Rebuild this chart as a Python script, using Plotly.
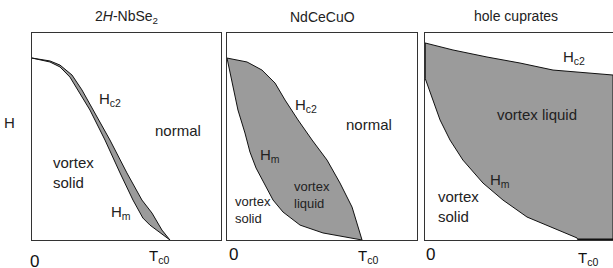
import plotly.graph_objects as go

W, H = 613, 268

# ---------------- data (T/Tc0, H normalised to box height) ----------------
# Panel 1: 2H-NbSe2
nb_hc2_t = [0.0, 0.130, 0.203, 0.290, 0.362, 0.442, 0.565, 0.688, 0.797, 0.870, 0.942, 1.0]
nb_hc2_h = [0.879, 0.865, 0.845, 0.797, 0.725, 0.628, 0.483, 0.324, 0.193, 0.130, 0.048, 0.0]
nb_hm_t = [0.0, 0.130, 0.203, 0.275, 0.348, 0.420, 0.529, 0.638, 0.732, 0.804, 0.855, 0.928, 1.0]
nb_hm_h = [0.879, 0.860, 0.836, 0.787, 0.710, 0.628, 0.483, 0.324, 0.193, 0.106, 0.072, 0.034, 0.0]

# Panel 2: NdCeCuO
nd_hc2_t = [0.0, 0.148, 0.259, 0.356, 0.430, 0.526, 0.630, 0.741, 0.837, 0.926, 1.0]
nd_hc2_h = [0.879, 0.860, 0.821, 0.758, 0.676, 0.580, 0.483, 0.386, 0.275, 0.159, 0.0]
nd_hm_t = [0.0, 0.044, 0.081, 0.133, 0.170, 0.215, 0.267, 0.341, 0.415, 0.541, 0.711, 0.889, 1.0]
nd_hm_h = [0.879, 0.749, 0.628, 0.517, 0.425, 0.348, 0.280, 0.193, 0.135, 0.072, 0.034, 0.014, 0.0]

# Panel 3: hole cuprates
hc_hc2_t = [0.0, 0.171, 0.379, 0.581, 0.783, 0.991, 1.15]
hc_hc2_h = [0.952, 0.918, 0.884, 0.855, 0.821, 0.807, 0.797]
hc_hm_t = [0.0, 0.024, 0.049, 0.092, 0.153, 0.232, 0.355, 0.477, 0.624, 0.783, 0.930, 0.936, 1.15]
hc_hm_h = [0.783, 0.725, 0.676, 0.580, 0.483, 0.386, 0.275, 0.193, 0.111, 0.058, 0.010, 0.0, 0.0]

titles = ["2<i>H</i>-NbSe<sub>2</sub>", "NdCeCuO", "hole cuprates"]
x_ranges = [[0, 1.37], [0, 1.407], [0, 1.15]]

panels = [
    (nb_hc2_t, nb_hc2_h, nb_hm_t, nb_hm_h),
    (nd_hc2_t, nd_hc2_h, nd_hm_t, nd_hm_h),
    (hc_hc2_t, hc_hc2_h, hc_hm_t, hc_hm_h),
]

# ---------------- layout geometry (pixels) ----------------
box_x = [(32, 221), (227, 417), (425, 613)]
box_top, box_bot = 33, 240

def px(x):
    return x / W

def py(y):
    return 1 - y / H

fig = go.Figure()
FILL = "#9b9b9b"
LINE = "#111111"

for i, (ht, hh, mt, mh) in enumerate(panels):
    suffix = "" if i == 0 else str(i + 1)
    poly_t = list(ht) + list(reversed(mt))
    poly_h = list(hh) + list(reversed(mh))
    fig.add_trace(go.Scatter(x=poly_t, y=poly_h, mode="lines", fill="toself",
                             fillcolor=FILL, line=dict(color=LINE, width=1),
                             xaxis="x" + suffix, yaxis="y" + suffix,
                             hoverinfo="skip", showlegend=False))
    if i == 2:
        # left vertical edge of the hole-cuprate region
        fig.add_trace(go.Scatter(x=[ht[0], mt[0]], y=[hh[0], mh[0]], mode="lines",
                                 line=dict(color=LINE, width=1.5),
                                 xaxis="x3", yaxis="y3", hoverinfo="skip", showlegend=False))
        fig.add_trace(go.Scatter(x=mt[-2:], y=mh[-2:], mode="lines",
                                 line=dict(color=LINE, width=3),
                                 xaxis="x3", yaxis="y3", hoverinfo="skip", showlegend=False))

layout = dict(width=W, height=H, margin=dict(l=0, r=0, t=0, b=0),
              paper_bgcolor="white", plot_bgcolor="white", showlegend=False,
              font=dict(family="Liberation Sans, Arial, sans-serif", color="#222"))

for i in range(3):
    suffix = "" if i == 0 else str(i + 1)
    x0, x1 = box_x[i]
    layout["xaxis" + suffix] = dict(domain=[px(x0), px(x1)], range=x_ranges[i],
                                    anchor="y" + suffix, showgrid=False, zeroline=False,
                                    showticklabels=False, ticks="", showline=True,
                                    linecolor="#333", linewidth=1.3, mirror=True,
                                    fixedrange=True)
    layout["yaxis" + suffix] = dict(domain=[py(box_bot), py(box_top)], range=[0, 1],
                                    anchor="x" + suffix, showgrid=False, zeroline=False,
                                    showticklabels=False, ticks="", showline=True,
                                    linecolor="#333", linewidth=1.3,
                                    mirror=(i != 2), fixedrange=True)
fig.update_layout(**layout)

ann = []
def txt(x, y, s, size=15, xanchor="center", color="#222", align="center"):
    ann.append(dict(x=px(x), y=py(y), xref="paper", yref="paper", text=s, showarrow=False,
                    xanchor=xanchor, yanchor="middle", align=align,
                    font=dict(size=size, color=color)))

# titles
txt(126, 17, titles[0], size=14)
txt(322, 17, titles[1], size=14)
txt(516, 16, titles[2], size=14)

# axis labels
txt(9, 122, "H", size=15)
txt(34, 261, "0", size=17, color="#111")
txt(159, 256, "T<sub>c0</sub>", size=15, color="#111")
txt(233, 254, "0", size=17, color="#111")
txt(368, 256, "T<sub>c0</sub>", size=15, color="#111")
txt(430, 254, "0", size=17, color="#111")
txt(588, 258, "T<sub>c0</sub>", size=15, color="#111")

# region labels panel 1
txt(110, 99, "H<sub>c2</sub>", size=15)
txt(178, 130, "normal", size=15)
txt(51, 172, "vortex<br>solid", size=15, xanchor="left", align="left")
txt(121, 212, "H<sub>m</sub>", size=15)

# panel 2
txt(306, 106, "H<sub>c2</sub>", size=15)
txt(369, 124, "normal", size=15)
txt(270, 155, "H<sub>m</sub>", size=15)
txt(292, 195, "vortex<br>liquid", size=13, xanchor="left", align="left")
txt(233, 210, "vortex<br>solid", size=13, xanchor="left", align="left")

# panel 3
txt(574, 58, "H<sub>c2</sub>", size=15)
txt(537, 114, "vortex liquid", size=15)
txt(500, 180, "H<sub>m</sub>", size=15)
txt(436, 206, "vortex<br>solid", size=15, xanchor="left", align="left")

fig.update_layout(annotations=ann)
fig.write_html("out.html", config={"displayModeBar": False},
               post_script="document.body.style.margin='0';document.body.style.overflow='hidden';")
